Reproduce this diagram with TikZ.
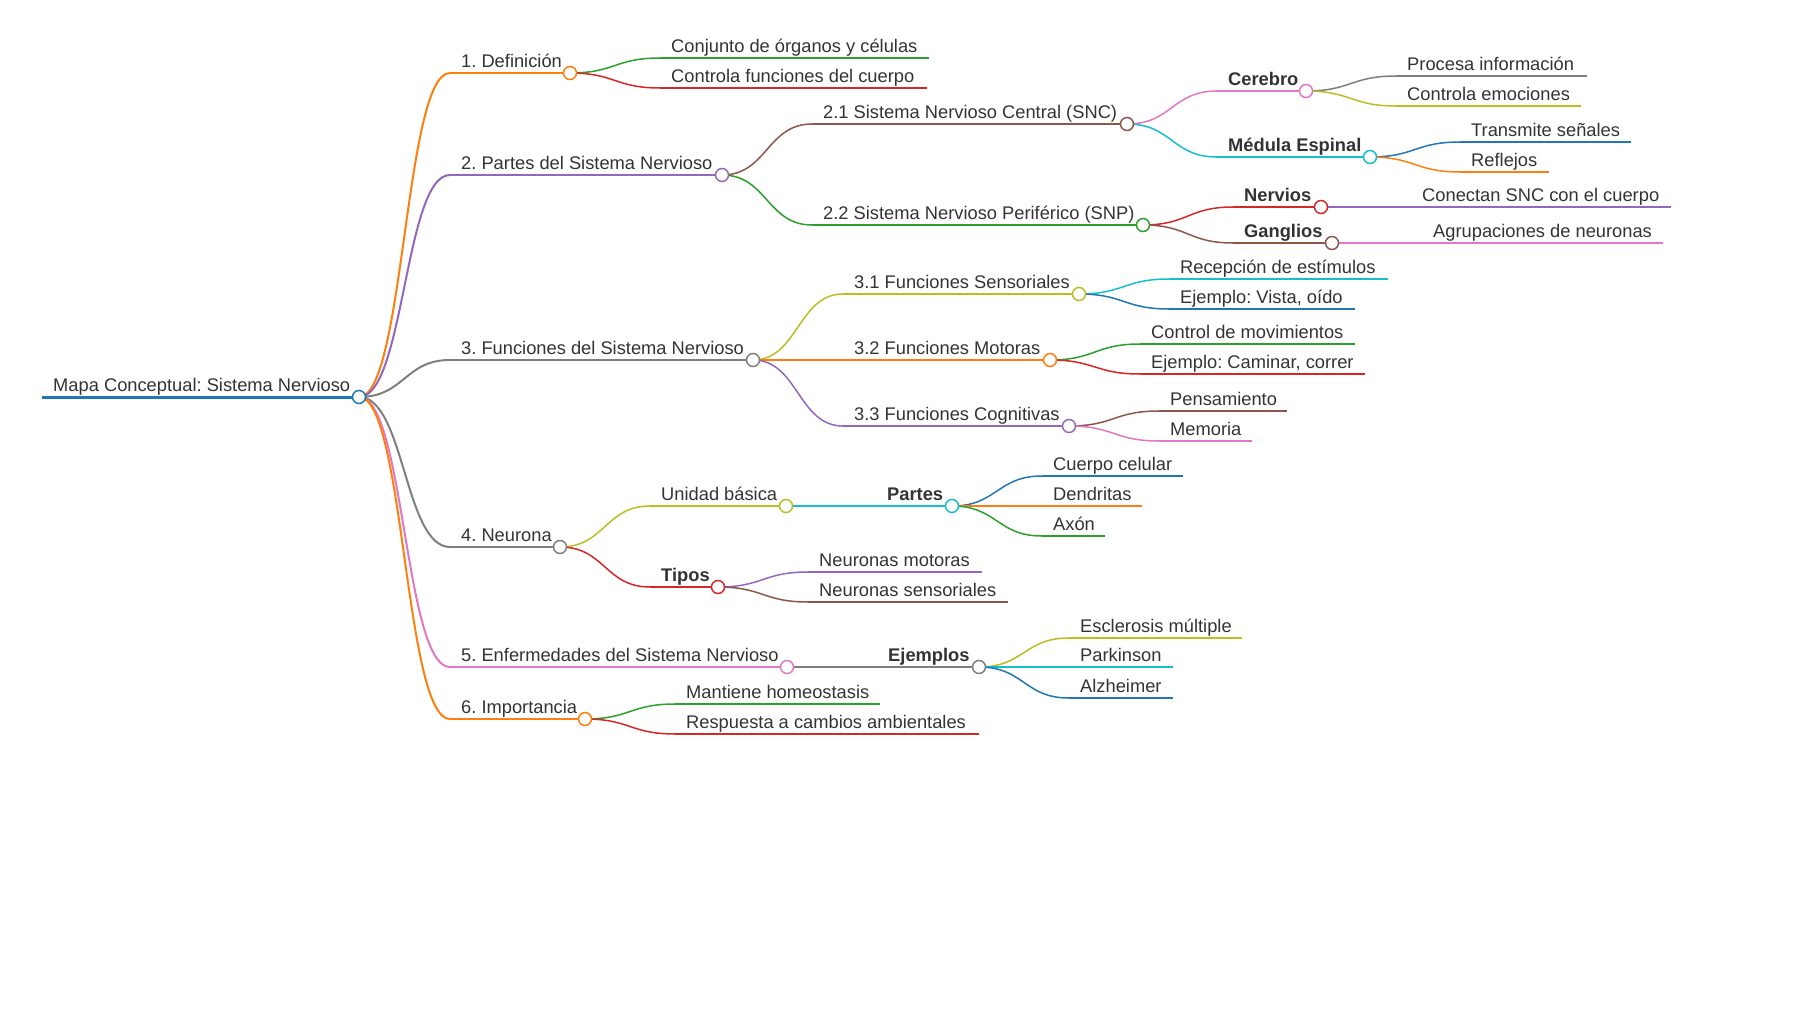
\documentclass[tikz,border=0pt]{standalone}
\usepackage{fontspec}
\setmainfont{Liberation Sans}
\frenchspacing
\usetikzlibrary{calc}
\definecolor{cblue}{HTML}{1F77B4}
\definecolor{corange}{HTML}{FF7F0E}
\definecolor{cgreen}{HTML}{2CA02C}
\definecolor{cred}{HTML}{D62728}
\definecolor{cpurple}{HTML}{9467BD}
\definecolor{cbrown}{HTML}{8C564B}
\definecolor{cpink}{HTML}{E377C2}
\definecolor{cgray}{HTML}{7F7F7F}
\definecolor{colive}{HTML}{BCBD22}
\definecolor{ccyan}{HTML}{17BECF}
\definecolor{txt}{HTML}{333333}
\newcommand\mmn[6]{%
  \coordinate (#1s) at (#3,#5);
  \coordinate (#1e) at (#4,#5);
  \node[lbl] (#1) at ({#3+11},{#5-6}) {#6};
  \draw[#2] (#1s) -- (#1e);
}
\newcommand\mml[3]{%
  \draw[#3] let \p1=(#1e), \p2=(#2s) in (#1e) .. controls ({(\x1+\x2)/2},\y1) and ({(\x1+\x2)/2},\y2) .. (#2s);
}
\newcommand\mmc[2]{\draw[#2, line width=1.5pt, fill=white] (#1e) circle[radius=6.5];}
\begin{document}
\begin{tikzpicture}[x=1pt,y=-1pt,
  lbl/.style={inner sep=0pt, anchor=base west, text=txt, font=\fontsize{18.3}{22}\selectfont\frenchspacing},
  w0/.style={line width=3pt},
  w1/.style={line width=2pt},
  w2/.style={line width=1.5pt}]
\useasboundingbox (0,0) rectangle (1800,1012);
% root and level 1
\mmn{R}{cblue,w0}{42}{359}{397}{Mapa Conceptual: Sistema Nervioso}
\mmn{A}{corange,w1}{450}{570}{73}{1. Definición}
\mmn{B}{cpurple,w1}{450}{722}{175}{2. Partes del Sistema Nervioso}
\mmn{C}{cgray,w1}{450}{753}{360}{3. Funciones del Sistema Nervioso}
\mmn{D}{cgray,w1}{450}{560}{547}{4. Neurona}
\mmn{E}{cpink,w1}{450}{787}{667}{5. Enfermedades del Sistema Nervioso}
\mmn{F}{corange,w1}{450}{585}{719}{6. Importancia}
% deeper
\mmn{Aa}{cgreen,w2}{660}{929}{58}{Conjunto de órganos y células}
\mmn{Ab}{cred,w2}{660}{927}{88}{Controla funciones del cuerpo}
\mmn{Ba}{cbrown,w2}{812}{1127}{124}{2.1 Sistema Nervioso Central (SNC)}
\mmn{Bb}{cgreen,w2}{812}{1143}{225}{2.2 Sistema Nervioso Periférico (SNP)}
\mmn{Baa}{cpink,w2}{1217}{1306}{91}{\bfseries Cerebro}
\mmn{Bab}{ccyan,w2}{1217}{1370}{157}{\bfseries Médula Espinal}
\mmn{Baaa}{cgray,w2}{1396}{1587}{76}{Procesa información}
\mmn{Baab}{colive,w2}{1396}{1581}{106}{Controla emociones}
\mmn{Baba}{cblue,w2}{1460}{1631}{142}{Transmite señales}
\mmn{Babb}{corange,w2}{1460}{1549}{172}{Reflejos}
\mmn{Bba}{cred,w2}{1233}{1321}{207}{\bfseries Nervios}
\mmn{Bbb}{cbrown,w2}{1233}{1332}{243}{\bfseries Ganglios}
\mmn{Bbaa}{cpurple,w2}{1411}{1671}{207}{Conectan SNC con el cuerpo}
\mmn{Bbba}{cpink,w2}{1422}{1663}{243}{Agrupaciones de neuronas}
\mmn{Ca}{colive,w2}{843}{1079}{294}{3.1 Funciones Sensoriales}
\mmn{Cb}{corange,w2}{843}{1050}{360}{3.2 Funciones Motoras}
\mmn{Cc}{cpurple,w2}{843}{1069}{426}{3.3 Funciones Cognitivas}
\mmn{Caa}{ccyan,w2}{1169}{1388}{279}{Recepción de estímulos}
\mmn{Cab}{cblue,w2}{1169}{1355}{309}{Ejemplo: Vista, oído}
\mmn{Cba}{cgreen,w2}{1140}{1355}{344}{Control de movimientos}
\mmn{Cbb}{cred,w2}{1140}{1365}{374}{Ejemplo: Caminar, correr}
\mmn{Cca}{cbrown,w2}{1159}{1287}{411}{Pensamiento}
\mmn{Ccb}{cpink,w2}{1159}{1252}{441}{Memoria}
\mmn{Da}{colive,w2}{650}{786}{506}{Unidad básica}
\mmn{Db}{cred,w2}{650}{718}{587}{\bfseries Tipos}
\mmn{Daa}{ccyan,w2}{876}{952}{506}{\bfseries Partes}
\mmn{Daaa}{cblue,w2}{1042}{1183}{476}{Cuerpo celular}
\mmn{Daab}{corange,w2}{1042}{1142}{506}{Dendritas}
\mmn{Daac}{cgreen,w2}{1042}{1105}{536}{Axón}
\mmn{Dba}{cpurple,w2}{808}{982}{572}{Neuronas motoras}
\mmn{Dbb}{cbrown,w2}{808}{1008}{602}{Neuronas sensoriales}
\mmn{Ea}{cgray,w2}{877}{979}{667}{\bfseries Ejemplos}
\mmn{Eaa}{colive,w2}{1069}{1242}{638}{Esclerosis múltiple}
\mmn{Eab}{ccyan,w2}{1069}{1173}{667}{Parkinson}
\mmn{Eac}{cblue,w2}{1069}{1173}{698}{Alzheimer}
\mmn{Fa}{cgreen,w2}{675}{880}{704}{Mantiene homeostasis}
\mmn{Fb}{cred,w2}{675}{979}{734}{Respuesta a cambios ambientales}
% links
\mml{R}{A}{corange,w1}
\mml{R}{B}{cpurple,w1}
\mml{R}{C}{cgray,w1}
\mml{R}{D}{cgray,w1}
\mml{R}{E}{cpink,w1}
\mml{R}{F}{corange,w1}
\mml{A}{Aa}{cgreen,w2}
\mml{A}{Ab}{cred,w2}
\mml{B}{Ba}{cbrown,w2}
\mml{B}{Bb}{cgreen,w2}
\mml{Ba}{Baa}{cpink,w2}
\mml{Ba}{Bab}{ccyan,w2}
\mml{Baa}{Baaa}{cgray,w2}
\mml{Baa}{Baab}{colive,w2}
\mml{Bab}{Baba}{cblue,w2}
\mml{Bab}{Babb}{corange,w2}
\mml{Bb}{Bba}{cred,w2}
\mml{Bb}{Bbb}{cbrown,w2}
\mml{Bba}{Bbaa}{cpurple,w2}
\mml{Bbb}{Bbba}{cpink,w2}
\mml{C}{Ca}{colive,w2}
\mml{C}{Cb}{corange,w2}
\mml{C}{Cc}{cpurple,w2}
\mml{Ca}{Caa}{ccyan,w2}
\mml{Ca}{Cab}{cblue,w2}
\mml{Cb}{Cba}{cgreen,w2}
\mml{Cb}{Cbb}{cred,w2}
\mml{Cc}{Cca}{cbrown,w2}
\mml{Cc}{Ccb}{cpink,w2}
\mml{D}{Da}{colive,w2}
\mml{D}{Db}{cred,w2}
\mml{Da}{Daa}{ccyan,w2}
\mml{Daa}{Daaa}{cblue,w2}
\mml{Daa}{Daab}{corange,w2}
\mml{Daa}{Daac}{cgreen,w2}
\mml{Db}{Dba}{cpurple,w2}
\mml{Db}{Dbb}{cbrown,w2}
\mml{E}{Ea}{cgray,w2}
\mml{Ea}{Eaa}{colive,w2}
\mml{Ea}{Eab}{ccyan,w2}
\mml{Ea}{Eac}{cblue,w2}
\mml{F}{Fa}{cgreen,w2}
\mml{F}{Fb}{cred,w2}
% circles
\mmc{R}{cblue}
\mmc{A}{corange}
\mmc{B}{cpurple}
\mmc{C}{cgray}
\mmc{D}{cgray}
\mmc{E}{cpink}
\mmc{F}{corange}
\mmc{Ba}{cbrown}
\mmc{Bb}{cgreen}
\mmc{Baa}{cpink}
\mmc{Bab}{ccyan}
\mmc{Bba}{cred}
\mmc{Bbb}{cbrown}
\mmc{Ca}{colive}
\mmc{Cb}{corange}
\mmc{Cc}{cpurple}
\mmc{Da}{colive}
\mmc{Db}{cred}
\mmc{Daa}{ccyan}
\mmc{Ea}{cgray}
\end{tikzpicture}
\end{document}
